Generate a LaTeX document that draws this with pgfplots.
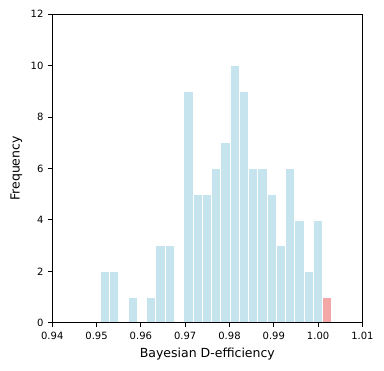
\documentclass[border=0pt]{standalone}
\usepackage{pgfplots}
\pgfplotsset{compat=1.18}
\usepackage{fontspec}
\setmainfont{DejaVu Sans}
\definecolor{histblue}{RGB}{198,228,238}
\definecolor{histred}{RGB}{244,167,167}
\begin{document}
\begin{tikzpicture}
\begin{axis}[
  scale only axis, width=248pt, height=246.8pt,
  xmin=0.94, xmax=1.01, ymin=0, ymax=12,
  xtick={0.94,0.95,0.96,0.97,0.98,0.99,1.00,1.01},
  ytick={0,2,4,6,8,10,12},
  xticklabel style={/pgf/number format/.cd,fixed,fixed zerofill,precision=2},
  /pgf/number format/assume math mode=true,
  tick label style={font=\fontsize{8}{9}\selectfont},
  label style={font=\fontsize{10}{12}\selectfont},
  xlabel={Bayesian D-efficiency}, ylabel={Frequency},
  tick align=outside,
  xtick pos=bottom, ytick pos=left,
  major tick length=3.5pt,
  every tick/.style={black, line width=0.8pt},
  axis line style={black, line width=1pt},
  axis on top,
  scaled x ticks=false,
  ybar, bar width=0.00209, bar shift=0pt,
]
\addplot[fill=histblue, draw=white, line width=0.6pt] coordinates {
(0.951885,2) (0.953975,2) (0.958155,1) (0.962335,1) (0.964425,3) (0.966515,3)
(0.970695,9) (0.972785,5) (0.974875,5) (0.976965,6) (0.979055,7) (0.981145,10)
(0.983235,9) (0.985325,6) (0.987415,6) (0.989505,5) (0.991595,3) (0.993685,6)
(0.995775,4) (0.997865,2) (0.999955,4)
};
\addplot[fill=histred, draw=white, line width=0.6pt] coordinates {(1.002045,1)};
\end{axis}
\path ([shift={(-5pt,-5pt)}]current bounding box.south west) rectangle ([shift={(5pt,5pt)}]current bounding box.north east);
\end{tikzpicture}
\end{document}
